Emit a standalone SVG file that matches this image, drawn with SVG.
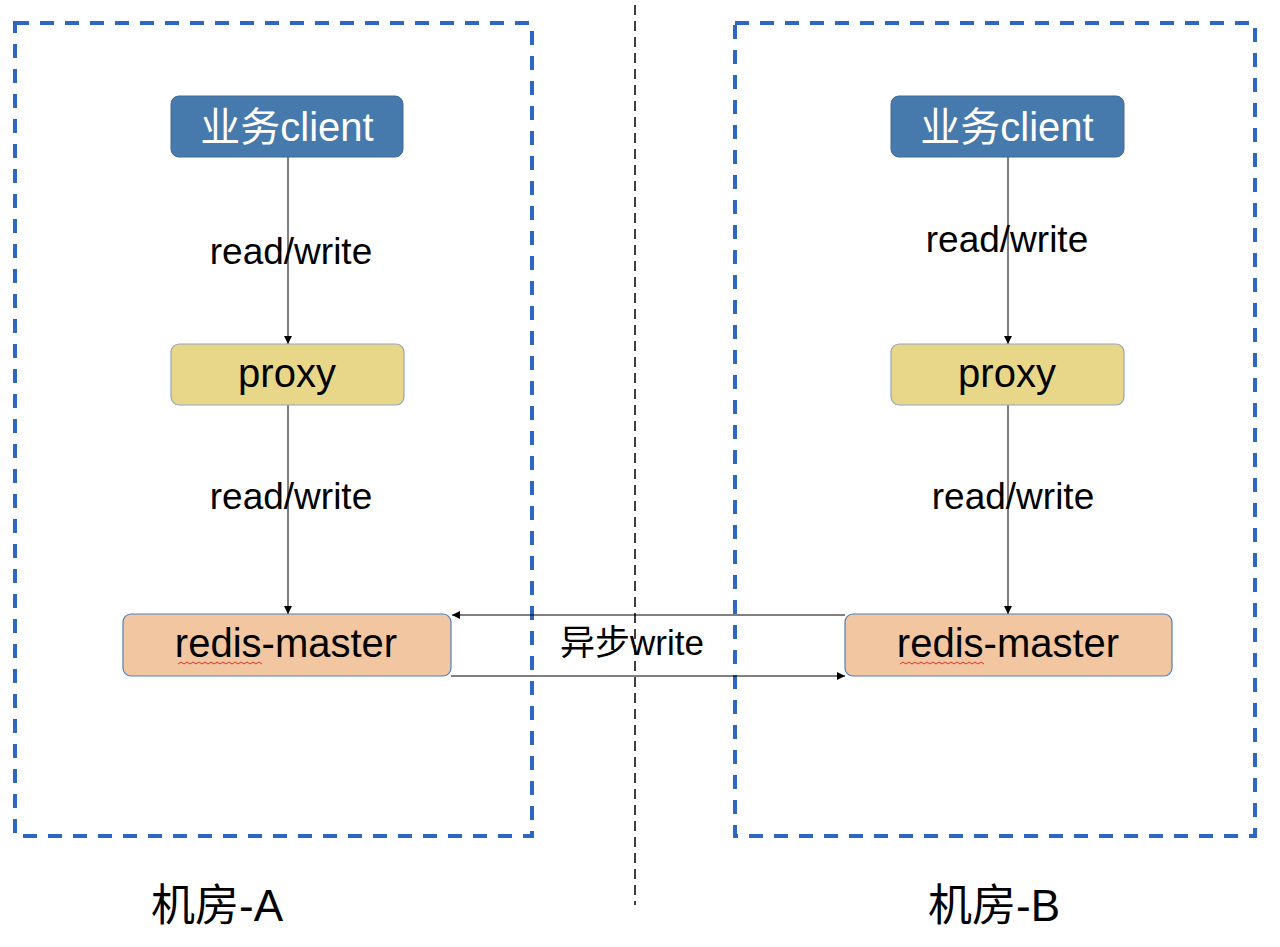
<svg xmlns="http://www.w3.org/2000/svg" width="1280" height="947" viewBox="0 0 1280 947">
<style>
.zone{fill:none;stroke:#2E66C4;stroke-width:4;stroke-dasharray:14 11}
.client rect{fill:#4679AC;stroke:#3C6A99;stroke-width:1}
.proxy rect{fill:#E8D788;stroke:#8FA6C8;stroke-width:1.2}
.redis rect{fill:#F2C6A0;stroke:#4F7FC4;stroke-width:1.2}
.nt{font-family:"Liberation Sans","Noto Sans CJK SC",sans-serif;font-size:40px;text-anchor:middle}
.lbl{font-family:"Liberation Sans","Noto Sans CJK SC",sans-serif;font-size:37px;text-anchor:middle;fill:#000}
.room{font-family:"Liberation Sans","Noto Sans CJK SC",sans-serif;font-size:44px;text-anchor:middle;fill:#000}
.async{font-family:"Liberation Sans","Noto Sans CJK SC",sans-serif;font-size:35px;text-anchor:middle;fill:#000}
.conn{stroke:#000;stroke-width:1;fill:none}
.squig{fill:none;stroke:#E03030;stroke-width:1}
</style>
<defs>
<marker id="ah" viewBox="0 0 10 10" refX="10" refY="5" markerWidth="8" markerHeight="8" markerUnits="userSpaceOnUse" orient="auto">
<path d="M0,0 L10,5 L0,10 z" fill="#000"/>
</marker>
</defs>
<rect width="1280" height="947" fill="#fff"/>
<g id="zones">
<rect class="zone" x="15" y="23" width="517" height="813"/>
<rect class="zone" x="735" y="23" width="520" height="813"/>
<line x1="635" y1="5" x2="635" y2="905" stroke="#000" stroke-width="1.5" stroke-dasharray="10 6"/>
<text class="room" x="217" y="921">机房-A</text>
<text class="room" x="994" y="921">机房-B</text>
</g>
<g id="connectors">
<line class="conn" x1="288" y1="157" x2="288" y2="344" marker-end="url(#ah)"/>
<line class="conn" x1="288" y1="405" x2="288" y2="614" marker-end="url(#ah)"/>
<line class="conn" x1="1008" y1="157" x2="1008" y2="344" marker-end="url(#ah)"/>
<line class="conn" x1="1008" y1="405" x2="1008" y2="614" marker-end="url(#ah)"/>
<line class="conn" x1="845" y1="615" x2="452" y2="615" marker-end="url(#ah)"/>
<line class="conn" x1="451" y1="676" x2="845" y2="676" marker-end="url(#ah)"/>
<text class="lbl" x="291" y="264">read/write</text>
<text class="lbl" x="291" y="509">read/write</text>
<text class="lbl" x="1007" y="252">read/write</text>
<text class="lbl" x="1013" y="509">read/write</text>
<text class="async" x="632" y="655">异步write</text>
</g>
<g id="client-a" class="client">
<rect x="171" y="96" width="232" height="61" rx="8"/>
<text class="nt" x="287" y="141" fill="#fff">业务client</text>
</g>
<g id="client-b" class="client">
<rect x="891" y="96" width="233" height="61" rx="8"/>
<text class="nt" x="1007" y="141" fill="#fff">业务client</text>
</g>
<g id="proxy-a" class="proxy">
<rect x="171" y="344" width="233" height="61" rx="8"/>
<text class="nt" x="287" y="387">proxy</text>
</g>
<g id="proxy-b" class="proxy">
<rect x="891" y="344" width="233" height="61" rx="8"/>
<text class="nt" x="1007" y="387">proxy</text>
</g>
<g id="redis-a" class="redis">
<rect x="123" y="614" width="328" height="62" rx="8"/>
<text class="nt" x="286" y="657">redis-master</text>
<path class="squig" d="M178,664 l3,-2 l3,2 l3,-2 l3,2 l3,-2 l3,2 l3,-2 l3,2 l3,-2 l3,2 l3,-2 l3,2 l3,-2 l3,2 l3,-2 l3,2 l3,-2 l3,2 l3,-2 l3,2 l3,-2 l3,2 l3,-2 l3,2 l3,-2 l3,2 l3,-2 l3,2"/>
</g>
<g id="redis-b" class="redis">
<rect x="845" y="614" width="327" height="62" rx="8"/>
<text class="nt" x="1008" y="657">redis-master</text>
<path class="squig" d="M900,664 l3,-2 l3,2 l3,-2 l3,2 l3,-2 l3,2 l3,-2 l3,2 l3,-2 l3,2 l3,-2 l3,2 l3,-2 l3,2 l3,-2 l3,2 l3,-2 l3,2 l3,-2 l3,2 l3,-2 l3,2 l3,-2 l3,2 l3,-2 l3,2 l3,-2 l3,2"/>
</g>
</svg>
